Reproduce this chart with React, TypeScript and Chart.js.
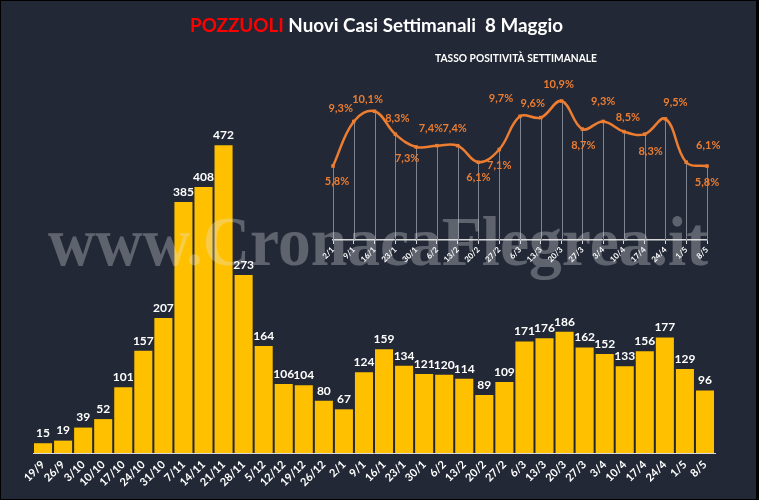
import React, { useEffect, useRef } from "react";
import { Chart, registerables } from "chart.js";

Chart.register(...registerables);

// ---------- data ----------
const weekLabels = [
  "19/9", "26/9", "3/10", "10/10", "17/10", "24/10", "31/10", "7/11", "14/11", "21/11",
  "28/11", "5/12", "12/12", "19/12", "26/12", "2/1", "9/1", "16/1", "23/1", "30/1",
  "6/2", "13/2", "20/2", "27/2", "6/3", "13/3", "20/3", "27/3", "3/4", "10/4",
  "17/4", "24/4", "1/5", "8/5",
];
const newCases = [
  15, 19, 39, 52, 101, 157, 207, 385, 408, 472,
  273, 164, 106, 104, 80, 67, 124, 159, 134, 121,
  120, 114, 89, 109, 171, 176, 186, 162, 152, 133,
  156, 177, 129, 96,
];
const positivityLabels = [
  "2/1", "9/1", "16/1", "23/1", "30/1", "6/2", "13/2", "20/2", "27/2", "6/3",
  "13/3", "20/3", "27/3", "3/4", "10/4", "17/4", "24/4", "1/5", "8/5",
];
const positivityRate = [
  5.8, 9.3, 10.1, 8.3, 7.3, 7.4, 7.4, 6.1, 7.1, 9.7,
  9.6, 10.9, 8.7, 9.3, 8.5, 8.3, 9.5, 6.1, 5.8,
];

const titleRed = "POZZUOLI";
const titleRest = " Nuovi Casi Settimanali  8 Maggio";
const subTitle = "TASSO POSITIVITÀ SETTIMANALE";
const watermark = "www.CronacaFlegrea.it";

// label offsets (style) for the positivity labels, relative to each point
const rateLabelDx = [4, -13, -7, 2, -9, -6, -3, 0, 0, -19, -8, -3, 1, 0, 4, 6, 10, 22, 0];
const rateLabelDy = [15, -13, -12, -16, 12, -17, -17, 15, 16, -18, -14, -17, 16, -20, -14, 17, -16, -17, 16];

// ---------- styles ----------
const BG = "#222835";
const BAR = "#FFC000";
const ORANGE = "#ED7D31";
const W = 759;
const H = 500;

function drawFit(
  ctx: CanvasRenderingContext2D,
  parts: { text: string; color: string }[],
  cx: number,
  baseline: number,
  width: number,
  font: string
) {
  ctx.save();
  ctx.font = font;
  const widths = parts.map((p) => ctx.measureText(p.text).width);
  const total = widths.reduce((a, b) => a + b, 0);
  const s = width / total;
  ctx.translate(cx - width / 2, baseline);
  ctx.scale(s, 1);
  ctx.textBaseline = "alphabetic";
  ctx.textAlign = "left";
  let x = 0;
  parts.forEach((p, i) => {
    ctx.fillStyle = p.color;
    ctx.fillText(p.text, x, 0);
    x += widths[i];
  });
  ctx.restore();
}

const barLabelPlugin = {
  id: "barLabels",
  afterDatasetsDraw(chart: any) {
    const ctx = chart.ctx;
    const meta = chart.getDatasetMeta(0);
    ctx.save();
    ctx.font = "bold 12px Lato";
    ctx.fillStyle = "#ffffff";
    ctx.textAlign = "center";
    ctx.textBaseline = "bottom";
    meta.data.forEach((el: any, i: number) => {
      ctx.fillText(String(chart.data.datasets[0].data[i]), el.x, el.y - 4);
    });
    ctx.restore();
  },
};

const dropLinePlugin = {
  id: "dropLines",
  beforeDatasetsDraw(chart: any) {
    const ctx = chart.ctx;
    const meta = chart.getDatasetMeta(0);
    const bottom = chart.chartArea.bottom;
    ctx.save();
    ctx.strokeStyle = "#7f8590";
    ctx.lineWidth = 1;
    meta.data.forEach((el: any) => {
      const x = Math.round(el.x) + 0.5;
      ctx.beginPath();
      ctx.moveTo(x, el.y);
      ctx.lineTo(x, bottom);
      ctx.stroke();
    });
    ctx.restore();
  },
};

const rateLabelPlugin = {
  id: "rateLabels",
  afterDatasetsDraw(chart: any) {
    const ctx = chart.ctx;
    const meta = chart.getDatasetMeta(0);
    ctx.save();
    ctx.font = "bold 11px Lato";
    ctx.fillStyle = ORANGE;
    ctx.textAlign = "center";
    ctx.textBaseline = "middle";
    meta.data.forEach((el: any, i: number) => {
      const v = chart.data.datasets[0].data[i] as number;
      const txt = v.toFixed(1).replace(".", ",") + "%";
      ctx.fillText(txt, el.x + rateLabelDx[i], el.y + rateLabelDy[i]);
    });
    ctx.restore();
  },
};

const overlayTextPlugin = {
  id: "overlayText",
  afterDraw(chart: any) {
    const ctx = chart.ctx;
    drawFit(
      ctx,
      [
        { text: titleRed, color: "#FF0000" },
        { text: titleRest, color: "#ffffff" },
      ],
      376.5,
      32,
      373,
      "bold 19px Lato"
    );
    drawFit(ctx, [{ text: subTitle, color: "#ffffff" }], 516, 61.5, 162, "bold 10.5px Lato");
    drawFit(
      ctx,
      [{ text: watermark, color: "rgba(230,232,236,0.31)" }],
      378,
      265,
      660,
      "bold 70px 'Liberation Serif'"
    );
  },
};

export default function App() {
  const mainRef = useRef<HTMLCanvasElement>(null);
  const insetRef = useRef<HTMLCanvasElement>(null);

  useEffect(() => {
    const main = new Chart(mainRef.current as HTMLCanvasElement, {
      type: "bar",
      data: {
        labels: weekLabels,
        datasets: [
          {
            data: newCases,
            backgroundColor: BAR,
            barPercentage: 0.9,
            categoryPercentage: 1.0,
          },
        ],
      },
      options: {
        responsive: false,
        animation: false,
        layout: { padding: { left: 33, right: 44, top: 127, bottom: 2 } },
        plugins: { legend: { display: false }, tooltip: { enabled: false }, title: { display: false } },
        scales: {
          x: {
            grid: { display: false, drawTicks: false },
            border: { display: true, color: "#d9d9d9", width: 1 },
            ticks: {
              color: "#ffffff",
              font: { family: "Lato", weight: "bold", size: 11 },
              minRotation: 45,
              maxRotation: 45,
              autoSkip: false,
              padding: 5,
            },
            afterFit: (s: any) => {
              s.height = 45;
            },
          },
          y: { display: false, min: 0, max: 500 },
        },
      },
      plugins: [barLabelPlugin],
    } as any);

    const inset = new Chart(insetRef.current as HTMLCanvasElement, {
      type: "line",
      data: {
        labels: positivityLabels,
        datasets: [
          {
            data: positivityRate,
            borderColor: ORANGE,
            borderWidth: 2.5,
            tension: 0.4,
            pointStyle: "rect",
            pointRadius: 2.5,
            pointBackgroundColor: ORANGE,
            pointBorderColor: ORANGE,
            pointBorderWidth: 0,
            clip: false,
          },
        ],
      },
      options: {
        responsive: false,
        animation: false,
        layout: { padding: { left: 333, right: 52, top: 87, bottom: 0 } },
        plugins: { legend: { display: false }, tooltip: { enabled: false }, title: { display: false } },
        scales: {
          x: {
            offset: false,
            grid: { display: true, drawOnChartArea: false, drawTicks: true, tickLength: 4, color: "#d9d9d9" },
            border: { display: true, color: "#d9d9d9", width: 1.5 },
            ticks: {
              color: "#ffffff",
              font: { family: "Lato", weight: "bold", size: 8 },
              minRotation: 45,
              maxRotation: 45,
              autoSkip: false,
              padding: 1,
            },
            afterFit: (s: any) => {
              s.height = 260;
            },
          },
          y: { display: false, min: 0, max: 12 },
        },
      },
      plugins: [dropLinePlugin, rateLabelPlugin, overlayTextPlugin],
    } as any);

    return () => {
      main.destroy();
      inset.destroy();
    };
  }, []);

  return (
    <div style={{ position: "absolute", left: 0, top: 0, width: W, height: H, background: "#000" }}>
      <div style={{ position: "absolute", left: 1, top: 1, width: W - 4, height: H - 2, background: BG }} />
      <canvas ref={mainRef} width={W} height={H} style={{ position: "absolute", left: 0, top: 0 }} />
      <canvas ref={insetRef} width={W} height={H} style={{ position: "absolute", left: 0, top: 0 }} />
    </div>
  );
}
